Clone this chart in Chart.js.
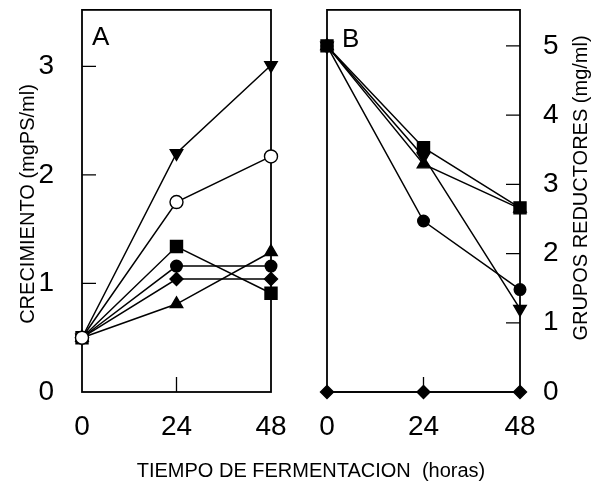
<!DOCTYPE html>
<html>
<head>
  <meta charset="UTF-8">
  <title>Crecimiento y grupos reductores</title>
  <script src="https://cdn.jsdelivr.net/npm/chart.js"></script>
  <style>
    body { margin: 0; background: #fff; }
    #lienzo { position: relative; width: 595px; height: 483px; overflow: hidden; }
    #cajaA { position: absolute; left: 0; top: 0; width: 290px; height: 483px; }
    #cajaB { position: absolute; left: 300px; top: 0; width: 295px; height: 483px; }
    #tituloX {
      position: absolute; left: 0; width: 622px; top: 458px;
      text-align: center; font: 20px "Liberation Sans", Arial, sans-serif;
      line-height: 24px; color: #000; white-space: pre;
    }
  </style>
</head>
<body>
<div id="lienzo">
  <div id="cajaA"><canvas id="graficoA" width="290" height="483"></canvas></div>
  <div id="cajaB"><canvas id="graficoB" width="295" height="483"></canvas></div>
  <div id="tituloX">TIEMPO DE FERMENTACION  (horas)</div>
</div>

<script>
  // tiempo de fermentacion (horas)
  var horas = [0, 24, 48];
  var ticksHoras = [0, 24, 48];

  // A: crecimiento (mgPS/ml)
  var crecCirculoAbierto = [0.5, 1.75, 2.17];
  var crecTrianguloInv = [0.5, 2.20, 3.01];
  var crecCuadrado = [0.5, 1.34, 0.91];
  var crecCirculo = [0.5, 1.16, 1.16];
  var crecRombo = [0.5, 1.04, 1.04];
  var crecTriangulo = [0.5, 0.81, 1.29];
  var ticksCrec = [0, 1, 2, 3];

  // B: grupos reductores (mg/ml)
  var grupCirculo = [5.0, 2.47, 1.48];
  var grupCuadrado = [5.0, 3.53, 2.66];
  var grupTriangulo = [5.0, 3.29, 2.65];
  var grupTrianguloInv = [5.0, 3.40, 1.20];
  var grupRombo = [0, 0, 0];
  var ticksGrup = [0, 1, 2, 3, 4, 5];

  var fuente = '"Liberation Sans", Arial, sans-serif';

  function puntos(valores) {
    return horas.map(function(h, i) { return { x: h, y: valores[i] }; });
  }

  function serie(valores, estilo, radio, relleno, giro) {
    return {
      data: puntos(valores),
      borderColor: '#000',
      borderWidth: 1.5,
      pointStyle: estilo,
      pointRadius: radio,
      pointHoverRadius: radio,
      pointRotation: giro || 0,
      pointBackgroundColor: relleno,
      pointBorderColor: '#000',
      pointBorderWidth: 1.4,
      tension: 0,
      clip: false
    };
  }

  function sinRelleno(s) {
    s.paddingTop = 0; s.paddingBottom = 0; s.paddingLeft = 0; s.paddingRight = 0;
  }

  // marco, marcas hacia dentro, letra del panel y titulo del eje y
  var marco = {
    id: 'marco',
    beforeDatasetsDraw: function(chart, args, opts) {
      var ctx = chart.ctx, a = chart.chartArea;
      var sx = chart.scales.x, sy = chart.scales.y;
      ctx.save();
      ctx.strokeStyle = '#000';
      ctx.lineWidth = 1.8;
      ctx.strokeRect(a.left, a.top, a.right - a.left, a.bottom - a.top);
      ctx.lineWidth = 1.3;
      ctx.beginPath();
      opts.marcasY.forEach(function(v) {
        var py = sy.getPixelForValue(v);
        if (opts.lado === 'left') { ctx.moveTo(a.left, py); ctx.lineTo(a.left + 14, py); }
        else { ctx.moveTo(a.right, py); ctx.lineTo(a.right - 14, py); }
      });
      opts.marcasX.forEach(function(v) {
        var px = sx.getPixelForValue(v);
        ctx.moveTo(px, a.bottom); ctx.lineTo(px, a.bottom - 15);
      });
      ctx.stroke();
      ctx.restore();
    },
    afterDraw: function(chart, args, opts) {
      var ctx = chart.ctx;
      ctx.save();
      ctx.fillStyle = '#000';
      ctx.font = '26px ' + fuente;
      ctx.textAlign = 'left';
      ctx.textBaseline = 'alphabetic';
      ctx.fillText(opts.letra, opts.letraX, opts.letraY);
      ctx.font = '20px ' + fuente;
      ctx.textAlign = 'center';
      ctx.textBaseline = 'middle';
      ctx.translate(opts.tituloX, opts.tituloY);
      ctx.rotate(-Math.PI / 2);
      ctx.fillText(opts.titulo, 0, 0);
      ctx.restore();
    }
  };

  function ejeX() {
    return {
      type: 'linear', min: 0, max: 48,
      afterBuildTicks: function(s) { s.ticks = ticksHoras.map(function(v) { return { value: v }; }); },
      afterFit: function(s) { s.height = 91; sinRelleno(s); },
      grid: { display: false }, border: { display: false },
      ticks: { color: '#000', font: { family: fuente, size: 28 }, padding: 10, maxRotation: 0 }
    };
  }

  new Chart(document.getElementById('graficoA'), {
    type: 'line',
    data: {
      datasets: [
        serie(crecCirculoAbierto, 'circle', 6.5, '#fff'),
        serie(crecTrianguloInv, 'triangle', 7.2, '#000', 180),
        serie(crecCuadrado, 'rect', 8.5, '#000'),
        serie(crecCirculo, 'circle', 5.8, '#000'),
        serie(crecRombo, 'rectRot', 6.5, '#000'),
        serie(crecTriangulo, 'triangle', 7.2, '#000')
      ]
    },
    options: {
      responsive: false, animation: false,
      layout: { padding: { top: 8, right: 19, left: 0, bottom: 0 } },
      plugins: {
        legend: { display: false }, tooltip: { enabled: false },
        marco: { lado: 'left', marcasY: [1, 2, 3], marcasX: [24],
          letra: 'A', letraX: 92, letraY: 45,
          titulo: 'CRECIMIENTO (mgPS/ml)', tituloX: 28, tituloY: 204 }
      },
      scales: {
        x: ejeX(),
        y: {
          type: 'linear', min: 0, max: 3.52,
          afterBuildTicks: function(s) { s.ticks = ticksCrec.map(function(v) { return { value: v }; }); },
          afterFit: function(s) { s.width = 82; sinRelleno(s); },
          grid: { display: false }, border: { display: false },
          ticks: { color: '#000', font: { family: fuente, size: 28 }, padding: 20 }
        }
      }
    },
    plugins: [marco]
  });

  new Chart(document.getElementById('graficoB'), {
    type: 'line',
    data: {
      datasets: [
        serie(grupCirculo, 'circle', 5.8, '#000'),
        serie(grupCuadrado, 'rect', 8.5, '#000'),
        serie(grupTriangulo, 'triangle', 7.2, '#000'),
        serie(grupTrianguloInv, 'triangle', 7.2, '#000', 180),
        serie(grupRombo, 'rectRot', 6.5, '#000')
      ]
    },
    options: {
      responsive: false, animation: false,
      layout: { padding: { top: 9, right: 0, left: 27, bottom: 0 } },
      plugins: {
        legend: { display: false }, tooltip: { enabled: false },
        marco: { lado: 'right', marcasY: [1, 2, 3, 4, 5], marcasX: [24],
          letra: 'B', letraX: 42, letraY: 47,
          titulo: 'GRUPOS REDUCTORES (mg/ml)', tituloX: 281, tituloY: 188 }
      },
      scales: {
        x: ejeX(),
        y: {
          type: 'linear', position: 'right', min: 0, max: 5.52,
          afterBuildTicks: function(s) { s.ticks = ticksGrup.map(function(v) { return { value: v }; }); },
          afterFit: function(s) { s.width = 75; sinRelleno(s); },
          grid: { display: false }, border: { display: false },
          ticks: { color: '#000', font: { family: fuente, size: 28 }, padding: 15 }
        }
      }
    },
    plugins: [marco]
  });
</script>
</body>
</html>
